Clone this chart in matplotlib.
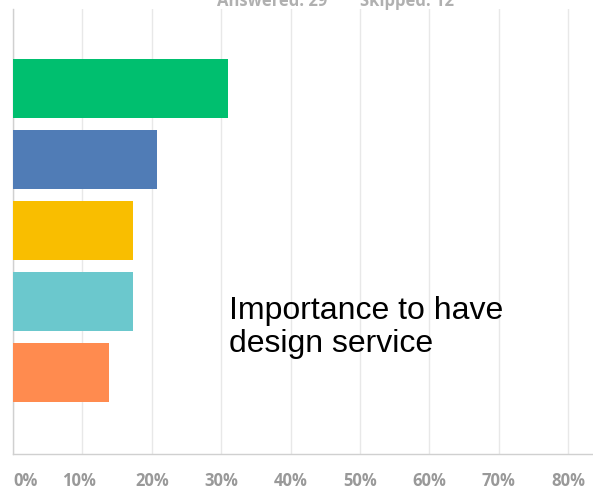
import matplotlib.pyplot as plt
import matplotlib.transforms as mtransforms

# answer shares in percent (9, 6, 5, 5, 4 of 29 answers)
answers = ["A", "B", "C", "D", "E"]
shares = [31.03, 20.69, 17.24, 17.24, 13.79]
colors = ["#00BF6F", "#507CB6", "#F9BE00", "#6BC8CD", "#FF8B4F"]
ticks = [0, 10, 20, 30, 40, 50, 60, 70, 80]
tick_labels = ["0%", "10%", "20%", "30%", "40%", "50%", "60%", "70%", "80%"]

W, H = 593, 489
fig = plt.figure(figsize=(W / 100, H / 100), dpi=100)
ax = fig.add_axes([13 / W, (H - 455) / H, (W - 13) / W, (455 - 10) / H])

ypos = list(range(len(answers)))
ax.barh(ypos, shares, height=0.83, color=colors, zorder=3)

ax.set_xlim(0, (W - 13) / 69.4 * 10)
ax.set_ylim(5.14, -1.117)
ax.set_xticks(ticks)
ax.set_xticklabels(tick_labels)
ax.set_yticks([])
ax.tick_params(axis="x", length=0, pad=12.5, labelsize=12, labelcolor="#999999")
for lab in ax.get_xticklabels():
    lab.set_fontfamily("Open Sans")
    lab.set_fontweight("bold")

# screenshot labels: 0% and 10% sit a bit off their gridlines
offsets = {0: 13, 1: -3}
for i, lab in enumerate(ax.get_xticklabels()):
    if i in offsets:
        lab.set_transform(lab.get_transform() + mtransforms.ScaledTranslation(offsets[i] / 100, 0, fig.dpi_scale_trans))

ax.grid(axis="x", color="#e8e8e8", linewidth=1, zorder=0)
for s in ["top", "right"]:
    ax.spines[s].set_visible(False)
for s in ["left", "bottom"]:
    ax.spines[s].set_color("#d0d0d0")
    ax.spines[s].set_linewidth(1)

# header cut off by the screenshot
fig.text(217 / W, (H - 6) / H, "Answered: 29", fontsize=12, color="#b0b0b0",
         fontfamily="Open Sans", fontweight="bold", va="baseline")
fig.text(360 / W, (H - 6) / H, "Skipped: 12", fontsize=12, color="#b0b0b0",
         fontfamily="Open Sans", fontweight="bold", va="baseline")

fig.text(229 / W, (H - 352) / H, "Importance to have\ndesign service", fontsize=23,
         fontfamily="Liberation Sans", color="black", va="baseline", linespacing=1.15)

fig.savefig("out.png", dpi=100)
